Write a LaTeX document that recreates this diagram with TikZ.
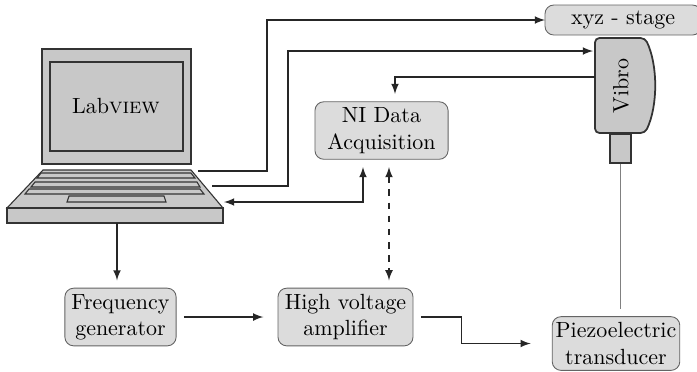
\documentclass[tikz,border=0pt]{standalone}
\usepackage{tikz}
\definecolor{boxgrau}{RGB}{220,220,220}
\definecolor{geraetgrau}{RGB}{200,200,200}
\definecolor{randgrau}{RGB}{100,100,100}

\begin{document}
\begin{tikzpicture}[x=0.16mm, y=-0.16mm, >=latex, font=\normalsize,
		box/.style={draw=randgrau, fill=boxgrau, rounded corners=4pt, align=center, inner xsep=1.6pt, inner ysep=2.7pt, outer sep=1.25mm},
		geraet/.style={draw=black!80, fill=geraetgrau, line width=0.5pt},
		leitung/.style={semithick, black!85}]
				\useasboundingbox (0,0) rectangle (697,371);
				% Laptop
				\draw[geraet] (42,49) rectangle (191,164);
				\draw[geraet] (50,62) rectangle (183,151);
				\node (labview) at (116,106) {Lab\textsc{view}};
				\draw[geraet] (43,170) -- (191,170) -- (223,208) -- (7,208) -- cycle;
				\draw[geraet] (7,208) rectangle (223,223);
				\draw[geraet] (41,173) -- (191,173) -- (195,178) -- (37,178) -- cycle;
				\draw[geraet] (35,182) -- (197,182) -- (200,187) -- (31,187) -- cycle;
				\draw[geraet] (29,189) -- (200,189) -- (204,194) -- (25,194) -- cycle;
				\draw[geraet] (69,196) -- (164,196) -- (166,202) -- (67,202) -- cycle;
				\coordinate (lt1) at (198,171);
				\coordinate (lt2) at (212,186);
				\coordinate (lt3) at (224,202);
				\coordinate (ltb) at (117,223);
				% Vibrometer
				\draw[geraet, line width=0.8pt, rounded corners=2pt] (595,133) -- (595,38) -- (645,38) .. controls (658,65) and (658,106) .. (645,133) -- cycle;
				\node[rotate=90] (vibro) at (621,86) {Vibro};
				\node[geraet, line width=0.8pt, minimum width=3.4mm, minimum height=4.6mm, inner sep=0pt, anchor=north] (linse) at (620.5,133) {};
				\coordinate (vib1) at (593,51);
				\coordinate (vib2) at (595,77);
				% Bloecke
				\node[box, minimum width=21.3mm] (ni) at (381.5,130.5) {NI Data\\Acquisition};
				\node[box, minimum width=17.8mm] (fg) at (120.5,317) {Frequency\\generator};
				\node[box, minimum width=21.6mm] (hv) at (345.5,317) {High voltage\\amplifier};
				\node[box] (pz) at (616,343.5) {Piezoelectric\\transducer};
				\node[box, outer sep=0pt, minimum width=25mm, minimum height=4.8mm, anchor=west] (stage) at (545,20) {xyz - stage};
				% Leitungen
				\coordinate (daq) at (363,0);
				\coordinate (trig) at (395,0);
				\coordinate (hvl) at (389,0);
				\draw[leitung,->] (lt1) -- ++(69,0) |- (stage.west);
				\draw[leitung,->] (lt2) -- ++(76,0) |- (vib1);
				\draw[leitung,<->] (lt3) -| (daq |- ni.south);
				\draw[leitung,->] (vib2) -| (trig |- ni.north);
				\draw[leitung,<->,dashed] (hvl |- ni.south) -- (hvl |- hv.north);
				\draw[leitung,->] (ltb) -- (ltb |- fg.north);
				\draw[leitung,->,shorten >=1.1mm] (fg.east) -- (hv.west);
				\draw[leitung,->,shorten >=2.2mm] (hv.east) -- ++(41,0) |- (pz.west);
				\draw[gray, semithick] (linse.south) -- (linse.south |- pz.north);
		\end{tikzpicture}
\end{document}
